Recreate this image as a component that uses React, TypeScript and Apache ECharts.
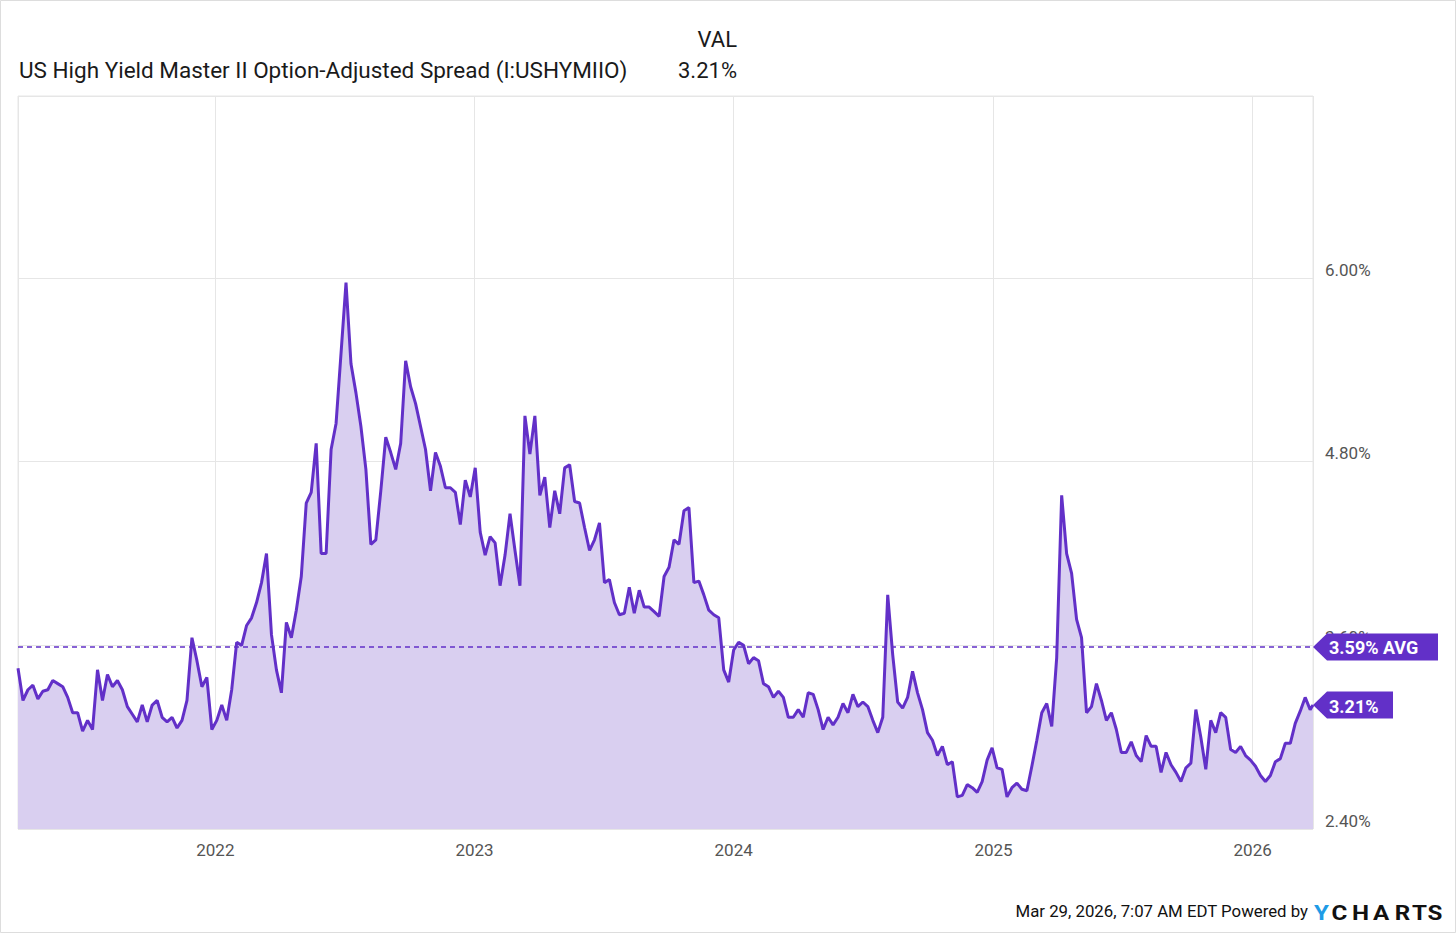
import React, { useEffect, useRef } from "react";
import * as echarts from "echarts";

// ---- data ----
const START_UTC = Date.UTC(2021, 2, 29); // first weekly observation
const END_UTC = Date.UTC(2026, 2, 27); // last observation
const STEP_DAYS = 7;

const spreadWeekly: number[] = [
  // 2021
  3.45, 3.24, 3.31, 3.34, 3.25, 3.3, 3.31, 3.37, 3.35, 3.33,
  3.26, 3.16, 3.16, 3.04, 3.11, 3.05, 3.44, 3.24, 3.41, 3.33,
  3.37, 3.31, 3.2, 3.15, 3.1, 3.21, 3.1, 3.21, 3.24, 3.13,
  3.1, 3.13, 3.06, 3.11, 3.24, 3.65, 3.5, 3.33, 3.39, 3.05,
  3.11, 3.21, 3.11, 3.31,
  // 2022
  3.62, 3.6, 3.73, 3.78, 3.88, 4.01, 4.2, 3.67, 3.44, 3.29,
  3.75, 3.65, 3.83, 4.05, 4.53, 4.6, 4.92, 4.2, 4.2, 4.88,
  5.05, 5.51, 5.97, 5.44, 5.25, 5.03, 4.75, 4.26, 4.29, 4.61,
  4.96, 4.86, 4.75, 4.92, 5.46, 5.29, 5.18, 5.03, 4.88, 4.61,
  4.86, 4.77, 4.63,
  // 2023
  4.63, 4.6, 4.39, 4.68, 4.57, 4.76, 4.34, 4.19, 4.31, 4.27,
  3.99, 4.19, 4.46, 4.22, 3.99, 5.1, 4.85, 5.1, 4.58, 4.7,
  4.37, 4.61, 4.46, 4.76, 4.78, 4.54, 4.53, 4.37, 4.22, 4.29,
  4.4, 4.01, 4.03, 3.88, 3.8, 3.81, 3.98, 3.81, 3.96, 3.85,
  3.85, 3.82, 3.79,
  4.05, 4.11, 4.29, 4.26, 4.48, 4.5, 4.01, 4.02, 3.93, 3.83,
  3.8, 3.78, 3.44, 3.36, 3.57, 3.62, 3.6, 3.48, 3.52, 3.5,
  // 2024
  3.35, 3.33, 3.26, 3.3, 3.26, 3.13, 3.13, 3.18, 3.13, 3.29,
  3.28, 3.18, 3.05, 3.13, 3.08, 3.13, 3.22, 3.16, 3.28, 3.2,
  3.23, 3.2, 3.11, 3.03,
  3.13, 3.93, 3.54, 3.23, 3.19, 3.26, 3.43, 3.29, 3.18, 3.03,
  2.98, 2.88, 2.94, 2.82, 2.84, 2.61, 2.62, 2.69, 2.67, 2.64,
  // 2025
  2.71, 2.85, 2.93, 2.8, 2.79, 2.61, 2.67, 2.7, 2.66, 2.65,
  2.81, 2.98, 3.16, 3.22, 3.07, 3.52, 4.58, 4.2, 4.07, 3.77,
  3.65, 3.16, 3.2,
  3.35, 3.24, 3.11, 3.16, 3.05, 2.9, 2.9, 2.97, 2.88, 2.84,
  3.01, 2.94, 2.94, 2.77, 2.9, 2.82, 2.77, 2.71, 2.8, 2.83,
  3.18, 3.0, 2.79, 3.11, 3.03, 3.16, 3.13, 2.92, 2.9, 2.94,
  2.88, 2.85, 2.81, 2.75, 2.71, 2.75, 2.84, 2.86,
  // 2026
  2.96, 2.96, 3.09, 3.17, 3.26, 3.18,
];
const LAST_VALUE = 3.21;
const AVG_VALUE = 3.59;

const TITLE = "US High Yield Master II Option-Adjusted Spread (I:USHYMIIO)";
const VAL_HEADER = "VAL";
const FOOTER = "Mar 29, 2026, 7:07 AM EDT Powered by";
const BRAND = ["Y", "C", "H", "A", "R", "T", "S"];
const Y_MIN = 2.4;
const Y_MAX = 7.19;
const Y_STEP = 1.2;

// ---- styles ----
const PURPLE = "#6230c8";
const AREA = "#d9cff0";
const GRID_LINE = "#e6e6e6";
const AXIS_TEXT = "#555555";
const FONT = "Roboto";

function buildSeries(): [number, number][] {
  const pts: [number, number][] = spreadWeekly.map((v, i) => [
    START_UTC + i * STEP_DAYS * 86400000,
    v,
  ]);
  pts.push([END_UTC, LAST_VALUE]);
  return pts;
}

function tag(id: string, tipX: number, cy: number, boxW: number, text: string) {
  const h = 27;
  const arrow = 14;
  return {
    type: "group",
    id,
    z: 100,
    children: [
      {
        type: "polygon",
        z: 100,
        shape: {
          points: [
            [tipX, cy],
            [tipX + arrow, cy - h / 2],
            [tipX + arrow + boxW, cy - h / 2],
            [tipX + arrow + boxW, cy + h / 2],
            [tipX + arrow, cy + h / 2],
          ],
        },
        style: { fill: PURPLE },
      },
      {
        type: "text",
        z: 101,
        x: tipX + arrow + 2,
        y: cy + 1,
        style: {
          text,
          fill: "#ffffff",
          font: `bold 18px ${FONT}`,
          verticalAlign: "middle",
        },
      },
    ],
  };
}

export default function App() {
  const ref = useRef<HTMLDivElement>(null);

  useEffect(() => {
    document.body.style.margin = "0";
    if (!ref.current) return;
    const chart = echarts.init(ref.current, null, { renderer: "svg" });
    const data = buildSeries();

    chart.setOption({
      animation: false,
      useUTC: true,
      backgroundColor: "#ffffff",
      grid: {
        left: 18,
        right: 143,
        top: 96,
        bottom: 104,
        show: true,
        borderColor: GRID_LINE,
        borderWidth: 1,
      },
      xAxis: {
        type: "time",
        min: START_UTC,
        max: END_UTC,
        splitNumber: 5,
        minInterval: 365 * 86400000,
        maxInterval: 366 * 86400000,
        axisLine: { show: false },
        axisTick: { show: false },
        splitLine: { show: true, lineStyle: { color: GRID_LINE, width: 1 } },
        axisLabel: {
          formatter: "{yyyy}",
          color: AXIS_TEXT,
          fontSize: 17,
          fontFamily: FONT,
          margin: 12,
          showMinLabel: false,
          showMaxLabel: false,
          hideOverlap: false,
        },
      },
      yAxis: {
        type: "value",
        position: "right",
        min: Y_MIN,
        max: Y_MAX,
        interval: Y_STEP,
        axisLine: { show: false },
        axisTick: { show: false },
        splitLine: { show: true, lineStyle: { color: GRID_LINE, width: 1 } },
        axisLabel: {
          formatter: (v: number) => v.toFixed(2) + "%",
          color: AXIS_TEXT,
          fontSize: 17,
          fontFamily: FONT,
          margin: 12,
          verticalAlign: "bottom",
          showMaxLabel: false,
        },
      },
      series: [
        {
          type: "line",
          data,
          showSymbol: false,
          symbol: "none",
          lineStyle: { color: PURPLE, width: 3 },
          itemStyle: { color: PURPLE },
          areaStyle: { color: AREA, opacity: 1 },
          markLine: {
            silent: true,
            symbol: "none",
            label: { show: false },
            lineStyle: { color: PURPLE, type: [5, 4], width: 1.5 },
            data: [{ yAxis: AVG_VALUE }],
          },
        },
      ],
    });

    const tipX = chart.convertToPixel({ xAxisIndex: 0 }, END_UTC) as number;
    const yAvg = chart.convertToPixel({ yAxisIndex: 0 }, AVG_VALUE) as number;
    const yLast = chart.convertToPixel({ yAxisIndex: 0 }, LAST_VALUE) as number;

    // centres of the logo letters
    const brandCx = [1321.5, 1339.5, 1360.5, 1381, 1402.5, 1419.5, 1435];

    chart.setOption({
      graphic: [
        {
          type: "rect",
          z: 0,
          shape: { x: 0.5, y: 0.5, width: 1455, height: 932 },
          style: { fill: "none", stroke: "#dddddd", lineWidth: 1 },
        },
        {
          type: "text",
          x: 19,
          y: 70,
          style: {
            text: TITLE,
            fill: "#1a1a1a",
            font: `22.5px ${FONT}`,
            verticalAlign: "middle",
          },
        },
        {
          type: "text",
          x: 737,
          y: 39,
          style: {
            text: VAL_HEADER,
            fill: "#1a1a1a",
            font: `22px ${FONT}`,
            align: "right",
            verticalAlign: "middle",
          },
        },
        {
          type: "text",
          x: 737,
          y: 70,
          style: {
            text: LAST_VALUE.toFixed(2) + "%",
            fill: "#1a1a1a",
            font: `22px ${FONT}`,
            align: "right",
            verticalAlign: "middle",
          },
        },
        {
          type: "text",
          x: 1308,
          y: 911,
          style: {
            text: FOOTER,
            fill: "#111111",
            font: `16.8px ${FONT}`,
            align: "right",
            verticalAlign: "middle",
          },
        },
        ...BRAND.map((ch, i) => ({
          type: "text",
          x: brandCx[i],
          y: 913,
          scaleX: 1.15,
          style: {
            text: ch,
            fill: i === 0 ? "#1e9be6" : "#111111",
            font: `bold 21px ${FONT}`,
            align: "center",
            verticalAlign: "middle",
          },
        })),
        tag("avgTag", tipX, yAvg, 111, AVG_VALUE.toFixed(2) + "% AVG"),
        tag("lastTag", tipX, yLast, 66, LAST_VALUE.toFixed(2) + "%"),
      ],
    });

    return () => chart.dispose();
  }, []);

  return <div ref={ref} style={{ width: 1456, height: 933 }} />;
}
